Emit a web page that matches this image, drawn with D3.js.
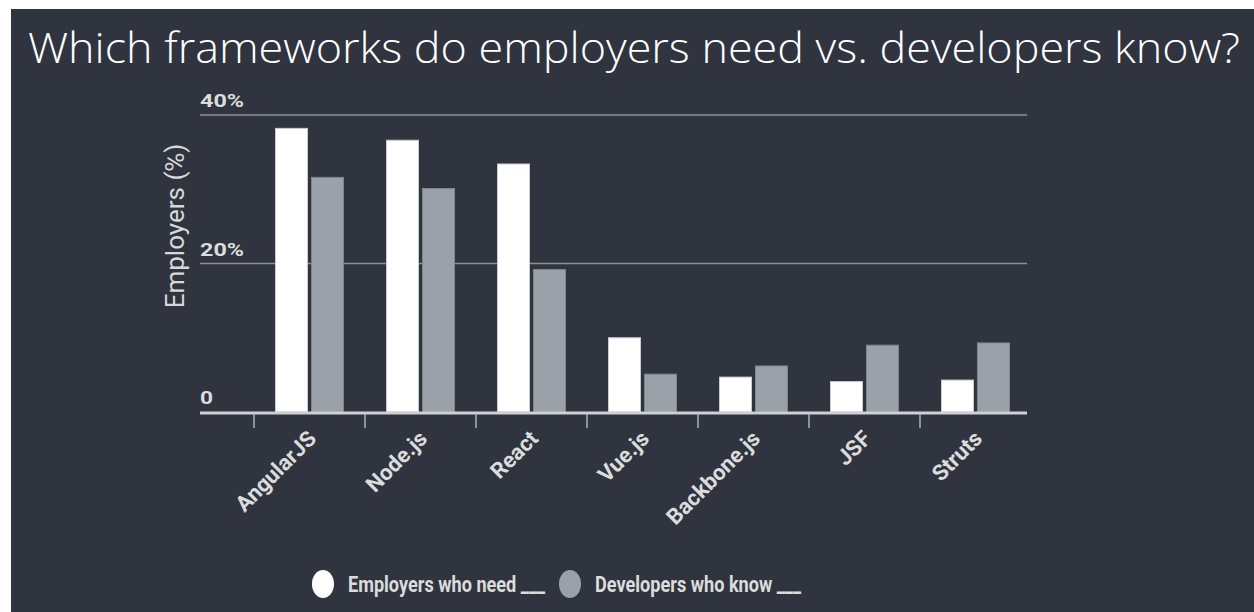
<!DOCTYPE html>
<html>
<head>
<meta charset="utf-8">
<script src="https://cdn.jsdelivr.net/npm/d3@7"></script>
<style>
  body { margin: 0; background: #fff; }
  svg { display: block; }
</style>
</head>
<body>
<div id="chart"></div>
<script>
// Data
const frameworks = ['AngularJS', 'Node.js', 'React', 'Vue.js', 'Backbone.js', 'JSF', 'Struts']
const employersNeed = [38.2, 36.6, 33.4, 10.0, 4.7, 4.1, 4.3]
const developersKnow = [31.6, 30.1, 19.2, 5.1, 6.2, 9.0, 9.3]
const yTicks = [0, 20, 40]
const seriesNames = ['Employers who need ___', 'Developers who know ___']
const seriesColors = ['#ffffff', '#9ba1a8']

const width = 1254
const height = 612
const bg = '#2f343e'

const svg = d3.select('#chart')
  .append('svg')
  .attr('width', width)
  .attr('height', height)

// Panel
svg.append('rect')
  .attr('x', 11).attr('y', 9)
  .attr('width', width - 11).attr('height', height - 9)
  .attr('fill', bg)

// Title
svg.append('text')
  .attr('x', 28)
  .attr('y', 63)
  .attr('fill', '#ffffff')
  .attr('textLength', 1212)
  .attr('lengthAdjust', 'spacingAndGlyphs')
  .style('font-family', '"Open Sans", sans-serif')
  .style('font-weight', 300)
  .style('font-size', '42px')
  .text('Which frameworks do employers need vs. developers know?')

// Scales
const x = d3.scaleBand()
  .domain(frameworks)
  .range([254, 1031])

const y = d3.scaleLinear()
  .domain([0, 40])
  .range([412, 115])

// Gridlines and y labels
svg.append('g')
  .selectAll('line')
  .data(yTicks.filter(d => d > 0))
  .enter().append('line')
  .attr('x1', 200).attr('x2', 1027)
  .attr('y1', d => y(d)).attr('y2', d => y(d))
  .attr('stroke', '#8b9097')
  .attr('stroke-width', 1.5)

svg.append('g')
  .selectAll('text')
  .data(yTicks)
  .enter().append('text')
  .attr('x', 200)
  .attr('y', d => y(d) - 8)
  .attr('fill', '#dcdcdc')
  .attr('textLength', d => d === 0 ? 13 : 44)
  .attr('lengthAdjust', 'spacingAndGlyphs')
  .style('font-family', 'Roboto, sans-serif')
  .style('font-weight', 700)
  .style('font-size', '18px')
  .text(d => d === 0 ? '0' : `${d}%`)

// Y axis title
svg.append('text')
  .attr('transform', `translate(184, 226) rotate(-90)`)
  .attr('text-anchor', 'middle')
  .attr('fill', '#d8d8d8')
  .style('font-family', 'Roboto, sans-serif')
  .style('font-size', '26px')
  .text('Employers (%)')

// Bars
const barW = 32
const gap = 4
const groups = svg.append('g')
  .selectAll('g')
  .data(frameworks)
  .enter().append('g')
  .attr('transform', d => `translate(${x(d) + x.bandwidth() / 2}, 0)`)

groups.append('rect')
  .attr('x', -barW - gap / 2)
  .attr('y', (d, i) => y(employersNeed[i]))
  .attr('width', barW)
  .attr('height', (d, i) => y(0) - y(employersNeed[i]))
  .attr('fill', seriesColors[0])
  .attr('stroke', '#c8cbd0')
  .attr('stroke-width', 1)

groups.append('rect')
  .attr('x', gap / 2)
  .attr('y', (d, i) => y(developersKnow[i]))
  .attr('width', barW)
  .attr('height', (d, i) => y(0) - y(developersKnow[i]))
  .attr('fill', seriesColors[1])
  .attr('stroke', '#7f858c')
  .attr('stroke-width', 1)

// X axis
svg.append('line')
  .attr('x1', 200).attr('x2', 1027)
  .attr('y1', y(0) + 1).attr('y2', y(0) + 1)
  .attr('stroke', '#cfd1d4')
  .attr('stroke-width', 3)

svg.append('g')
  .selectAll('line')
  .data(frameworks)
  .enter().append('line')
  .attr('x1', d => x(d)).attr('x2', d => x(d))
  .attr('y1', y(0) + 2).attr('y2', y(0) + 16)
  .attr('stroke', '#aeb2b7')
  .attr('stroke-width', 1.5)

svg.append('g')
  .selectAll('text')
  .data(frameworks)
  .enter().append('text')
  .attr('transform', d => `translate(${x(d) + x.bandwidth() / 2 + 8}, 440) rotate(-45)`)
  .attr('text-anchor', 'end')
  .attr('fill', '#dcdcdc')
  .style('font-family', 'Roboto, sans-serif')
  .style('font-weight', 700)
  .style('font-size', '22px')
  .text(d => d)

// Legend
const legend = svg.append('g')
const legendX = [323, 570]
const legendW = [197, 206]
seriesNames.forEach((name, i) => {
  legend.append('ellipse')
    .attr('cx', legendX[i]).attr('cy', 584)
    .attr('rx', 11).attr('ry', 14)
    .attr('fill', seriesColors[i])
  legend.append('text')
    .attr('x', legendX[i] + 25)
    .attr('y', 592)
    .attr('fill', '#dcdcdc')
    .attr('textLength', legendW[i])
    .attr('lengthAdjust', 'spacingAndGlyphs')
    .style('font-family', 'Roboto, sans-serif')
    .style('font-weight', 700)
    .style('font-size', '22px')
    .text(name)
})
</script>
</body>
</html>
